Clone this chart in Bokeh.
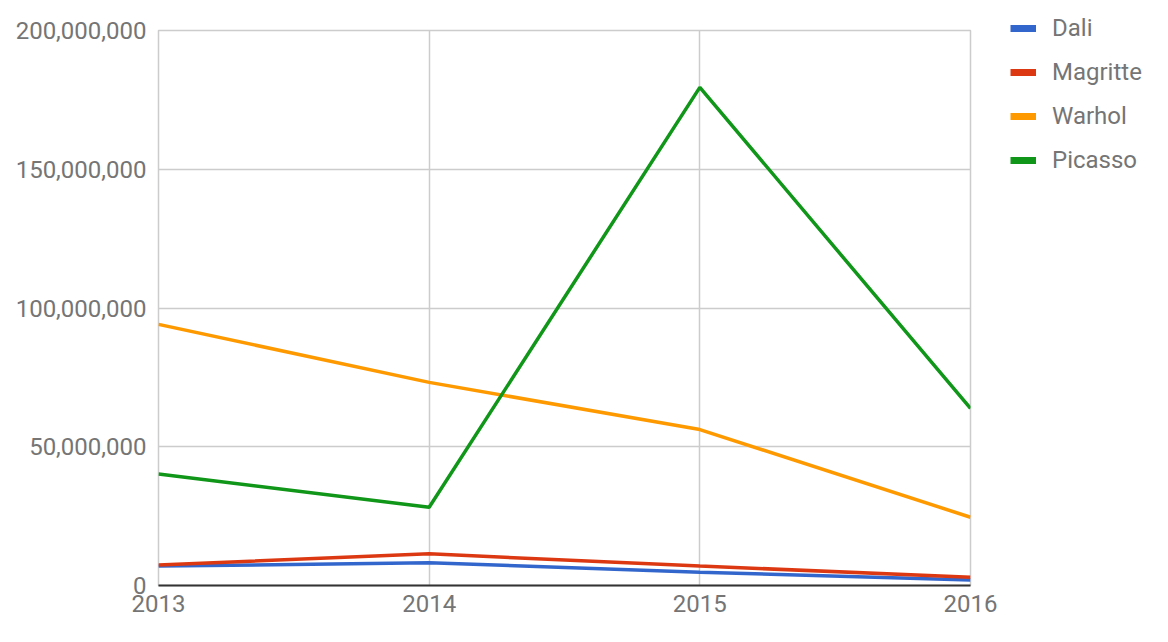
from bokeh.plotting import figure
from bokeh.layouts import row, column
from bokeh.models import Legend, LegendItem, NumeralTickFormatter, FixedTicker, Range1d
from bokeh.embed import file_html
from bokeh.resources import INLINE

years = [2013, 2014, 2015, 2016]
dali = [7.0e6, 8.2e6, 4.8e6, 2.0e6]
magritte = [7.4e6, 11.4e6, 7.0e6, 3.0e6]
warhol = [94.1e6, 73.2e6, 56.2e6, 24.6e6]
picasso = [40.2e6, 28.2e6, 179.5e6, 63.8e6]

series = [
    ("Dali", dali, "#3366cc"),
    ("Magritte", magritte, "#dc3912"),
    ("Warhol", warhol, "#ff9900"),
    ("Picasso", picasso, "#109618"),
]

FONT = "Roboto"
GREY = "#757575"

p = figure(width=1000, height=634, output_backend="svg", toolbar_location=None,
           x_range=Range1d(2013, 2016), y_range=Range1d(0, 200e6),
           min_border_left=158, min_border_right=30, min_border_top=30, min_border_bottom=49)
# frame outline gives the edge gridlines (2013, 2016, 200M)
p.outline_line_color = "#cccccc"
p.outline_line_width = 1.5

p.xaxis.ticker = FixedTicker(ticks=years)
p.yaxis.ticker = FixedTicker(ticks=[0, 50e6, 100e6, 150e6, 200e6])
p.yaxis.formatter = NumeralTickFormatter(format="0,0")

for ax in (p.xaxis, p.yaxis):
    ax.major_label_text_font = FONT
    ax.major_label_text_font_size = "24px"
    ax.major_label_text_color = GREY
    ax.minor_tick_line_color = None
    ax.major_tick_line_color = None
    ax.major_tick_in = 0
    ax.major_tick_out = 0

p.xaxis.axis_line_color = "#333333"
p.xaxis.axis_line_width = 2
p.xaxis.major_label_standoff = 9
p.yaxis.axis_line_color = None
p.yaxis.major_label_standoff = 12

p.grid.grid_line_color = "#cccccc"
p.grid.grid_line_width = 1.5

for name, vals, color in series:
    p.line(years, vals, line_color=color, line_width=3.5)

# legend lives in its own small figure to the right of the chart
lp = figure(width=160, height=634, output_backend="svg", toolbar_location=None,
            x_range=Range1d(0, 1), y_range=Range1d(0, 1),
            min_border=0, min_border_top=4, x_axis_type=None, y_axis_type=None)
lp.title = None
lp.outline_line_color = None
lp.grid.visible = False

items = []
for name, vals, color in series:
    # one-point line: draws nothing itself, gives a thick legend swatch
    swatch = lp.line(x=years[:1], y=vals[:1], line_color=color, line_width=7)
    items.append(LegendItem(label=name, renderers=[swatch]))

legend = Legend(items=items, location="top_left", border_line_color=None,
                background_fill_alpha=0, label_text_font=FONT,
                label_text_font_size="24px", label_text_color=GREY,
                glyph_width=26, glyph_height=24, label_height=24,
                label_standoff=16, spacing=16, margin=10, padding=0)
lp.add_layout(legend)

# wrapping the legend figure keeps its frame from being aligned with the chart's
open("out.html", "w").write(file_html(row(p, column(lp)), INLINE))
